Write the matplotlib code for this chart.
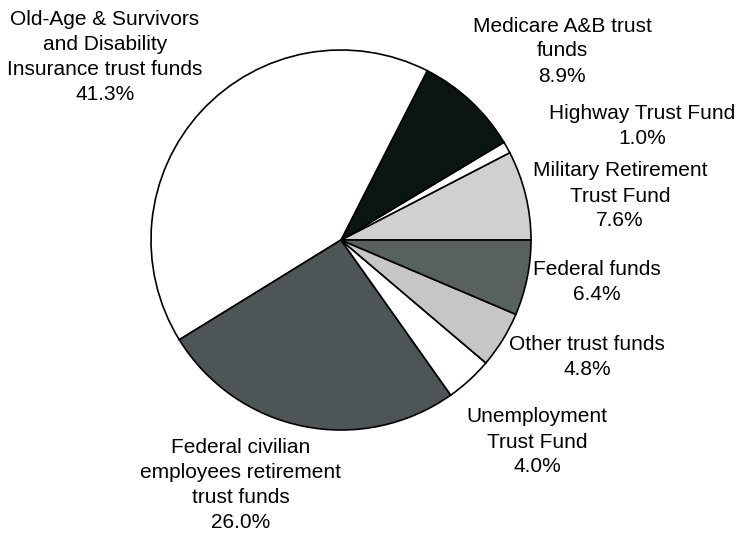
import matplotlib.pyplot as plt

# shares, counterclockwise from 3 o'clock
names = ["Military Retirement\nTrust Fund", "Highway Trust Fund", "Medicare A&B trust\nfunds",
         "Old-Age & Survivors\nand Disability\nInsurance trust funds",
         "Federal civilian\nemployees retirement\ntrust funds",
         "Unemployment\nTrust Fund", "Other trust funds", "Federal funds"]
shares = [7.6, 1.0, 8.9, 41.3, 26.0, 4.0, 4.8, 6.4]
colors = ["#d0d0d0", "#ffffff", "#0b1514", "#ffffff", "#4d5556", "#ffffff", "#c6c6c6", "#586160"]

# label centres in pixel coords (x, y from top)
label_pos = [(620, 196), (642, 126), (562, 51), (105, 57), (241, 485), (537, 442), (587, 357), (597, 282)]

plt.rcParams['font.family'] = ['Liberation Sans', 'DejaVu Sans']
fig = plt.figure(figsize=(7.37, 5.39), dpi=100)
ax = fig.add_axes([0, 0, 1, 1])

ax.pie(shares, colors=colors, startangle=0, counterclock=True, center=(341, 299), radius=190,
       wedgeprops=dict(edgecolor='black', linewidth=1.2), frame=True)
ax.set_xlim(0, 737)
ax.set_ylim(0, 539)
ax.set_aspect('equal')
ax.axis('off')

for name, val, (x, y) in zip(names, shares, label_pos):
    ax.text(x, 539 - y, f"{name}\n{val:.1f}%", ha='center', va='center', fontsize=15,
            linespacing=1.4)

fig.savefig("out.png", dpi=100)
